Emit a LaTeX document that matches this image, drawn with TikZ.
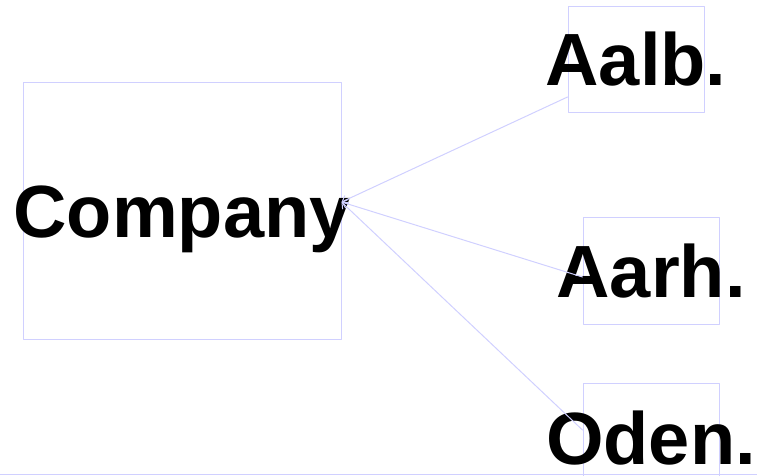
\documentclass[tikz,border=0pt]{standalone}
\usepackage{fontspec}
\setmainfont{Liberation Sans}
\usetikzlibrary{arrows.meta}
\definecolor{vien}{RGB}{208,208,255}
\tikzset{
  hop/.style={draw=vien, line width=1pt},
  chu/.style={font=\bfseries\fontsize{74}{80}\selectfont, text height=53pt, text depth=0pt, inner sep=0pt},
}
\begin{document}
\begin{tikzpicture}[x=1pt, y=-1pt, >={Straight Barb[length=5pt,width=9pt]}, line join=round, line cap=round]
  \useasboundingbox (0,0) rectangle (757,475);
  \clip (0,0) rectangle (757,475);
  % Các hộp
  \node[hop, minimum width=318pt, minimum height=257pt] (company) at (182,210.5) {};
  \node[hop, minimum width=136pt, minimum height=106pt] (aalb) at (636,59) {};
  \node[hop, minimum width=136pt, minimum height=107pt] (aarh) at (651,270.5) {};
  \node[hop, minimum width=136pt, minimum height=110pt] (oden) at (651,438) {};
  \draw[hop] (0,474) -- (757,474);
  % Chữ trong hộp
  \foreach \n/\t in {company/Company, aalb/Aalb., aarh/Aarh., oden/Oden.}
    \node[chu] (\n-t) at (\n) {\t};
  % Đường nối
  \draw[hop, ->] ([yshift=-38pt]aalb.west) -- ([yshift=8.5pt]company.east);
  \draw[hop, ->] ([yshift=-6.5pt]aarh.west) -- ([yshift=8.5pt]company.east);
  \draw[hop, ->] ([yshift=8pt]oden.west) -- ([yshift=8.5pt]company.east);
\end{tikzpicture}
\end{document}
